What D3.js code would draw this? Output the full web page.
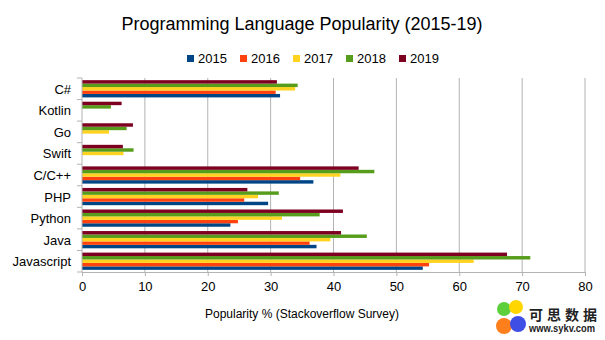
<!DOCTYPE html>
<html>
<head>
<meta charset="utf-8">
<script src="https://cdn.jsdelivr.net/npm/d3@7"></script>
<style>
  body { margin: 0; background: #fff; }
  svg { font-family: "Liberation Sans", Arial, sans-serif; }
</style>
</head>
<body>
<div id="chart"></div>
<script>
// categories, listed from the bottom of the chart upwards
var languages = ["Javascript", "Java", "Python", "PHP", "C/C++", "Swift", "Go", "Kotlin", "C#"];
var years = ["2015", "2016", "2017", "2018", "2019"];
var colors = ["#004586", "#ff420e", "#ffd320", "#579d1c", "#7e0021"];

// popularity % per year, same order as languages (0 = not in survey)
var v2015 = [54.2, 37.3, 23.6, 29.6, 36.8, 0, 0, 0, 31.5];
var v2016 = [55.2, 36.2, 24.8, 25.8, 34.7, 0, 0, 0, 30.8];
var v2017 = [62.3, 39.5, 31.8, 28.0, 41.1, 6.6, 4.3, 0, 33.9];
var v2018 = [71.3, 45.3, 37.8, 31.3, 46.5, 8.2, 7.1, 4.6, 34.3];
var v2019 = [67.6, 41.2, 41.5, 26.3, 44.0, 6.5, 8.1, 6.3, 31.0];
var series = [v2015, v2016, v2017, v2018, v2019];

var xTicks = [0, 10, 20, 30, 40, 50, 60, 70, 80];

var width = 605, height = 340;

var svg = d3.select("#chart").append("svg")
    .attr("width", width)
    .attr("height", height);

var x = d3.scaleLinear()
    .domain([0, 80])
    .range([82, 585]);

var y = d3.scaleBand()
    .domain(languages.slice().reverse())
    .range([78, 272])
    .paddingInner(0.2)
    .paddingOuter(0.1);

// 2019 on top of each group, 2015 at the bottom
var yInner = d3.scaleBand()
    .domain(years.slice().reverse())
    .range([0, y.bandwidth()]);

// title
svg.append("text")
    .attr("x", 302)
    .attr("y", 30)
    .attr("text-anchor", "middle")
    .style("font-size", "18px")
    .style("fill", "#000")
    .text("Programming Language Popularity (2015-19)");

// legend
var legend = svg.selectAll(".legend")
    .data(years)
    .enter().append("g")
    .attr("class", "legend")
    .attr("transform", function(d, i) { return "translate(" + (187 + i * 53) + ",55)"; });

legend.append("rect")
    .attr("width", 7)
    .attr("height", 7)
    .style("fill", function(d, i) { return colors[i]; });

legend.append("text")
    .attr("x", 11)
    .attr("y", 8)
    .style("font-size", "13px")
    .text(function(d) { return d; });

// gridlines
svg.selectAll(".grid")
    .data(xTicks.slice(1))
    .enter().append("line")
    .attr("class", "grid")
    .attr("x1", function(d) { return x(d); })
    .attr("x2", function(d) { return x(d); })
    .attr("y1", 78)
    .attr("y2", 272)
    .style("stroke", "#b3b3b3")
    .style("stroke-width", 1);

// bars
years.forEach(function(yr, si) {
    var vals = series[si];
    svg.append("g")
        .selectAll("rect")
        .data(languages.map(function(l, i) { return { lang: l, v: vals[i] }; })
            .filter(function(d) { return d.v > 0; }))
        .enter().append("rect")
        .attr("x", x(0))
        .attr("y", function(d) { return y(d.lang) + yInner(yr); })
        .attr("width", function(d) { return x(d.v) - x(0); })
        .attr("height", yInner.bandwidth())
        .style("fill", colors[si]);
});

// x axis
var xAxis = svg.append("g")
    .attr("transform", "translate(0,272)")
    .call(d3.axisBottom(x).tickValues(xTicks).tickSize(4).tickPadding(6));
xAxis.select(".domain").attr("stroke", "#b3b3b3");
xAxis.selectAll(".tick line").attr("stroke", "#b3b3b3");
xAxis.selectAll("text")
    .style("font-size", "13px")
    .style("font-family", "Liberation Sans, Arial, sans-serif")
    .attr("fill", "#000");

// y axis line with small ticks between categories
svg.append("line")
    .attr("x1", x(0)).attr("x2", x(0))
    .attr("y1", 78).attr("y2", 272)
    .style("stroke", "#b3b3b3");
var step = (272 - 78) / languages.length;
svg.selectAll(".ytick")
    .data(d3.range(languages.length + 1))
    .enter().append("line")
    .attr("x1", x(0) - 5).attr("x2", x(0))
    .attr("y1", function(d) { return 78 + d * step; })
    .attr("y2", function(d) { return 78 + d * step; })
    .style("stroke", "#b3b3b3");

svg.selectAll(".ylabel")
    .data(languages)
    .enter().append("text")
    .attr("x", 71)
    .attr("y", function(d) { return y(d) + y.bandwidth() / 2 + 5; })
    .attr("text-anchor", "end")
    .style("font-size", "13px")
    .text(function(d) { return d; });

// axis title
svg.append("text")
    .attr("x", 302)
    .attr("y", 318)
    .attr("text-anchor", "middle")
    .style("font-size", "12px")
    .text("Popularity % (Stackoverflow Survey)");

// watermark
var wm = svg.append("g").attr("transform", "translate(495,298)");
wm.append("circle").attr("cx", 9).attr("cy", 11).attr("r", 7).style("fill", "#5ccf3b");
wm.append("circle").attr("cx", 21).attr("cy", 9).attr("r", 7).style("fill", "#ffd600");
wm.append("circle").attr("cx", 9).attr("cy", 28).attr("r", 8).style("fill", "#ff7f1c");
wm.append("circle").attr("cx", 23).attr("cy", 26).attr("r", 8).style("fill", "#3f4fe6");
wm.append("text")
    .attr("x", 34).attr("y", 22)
    .attr("textLength", 68)
    .attr("lengthAdjust", "spacing")
    .style("font-family", "Noto Sans CJK SC")
    .style("font-weight", "bold")
    .style("font-size", "14px")
    .style("fill", "#222")
    .text("可思数据");
wm.append("text")
    .attr("x", 34).attr("y", 34)
    .attr("textLength", 66)
    .attr("lengthAdjust", "spacingAndGlyphs")
    .style("font-weight", "bold")
    .style("font-size", "10px")
    .style("fill", "#222")
    .text("www.sykv.com");
</script>
</body>
</html>
